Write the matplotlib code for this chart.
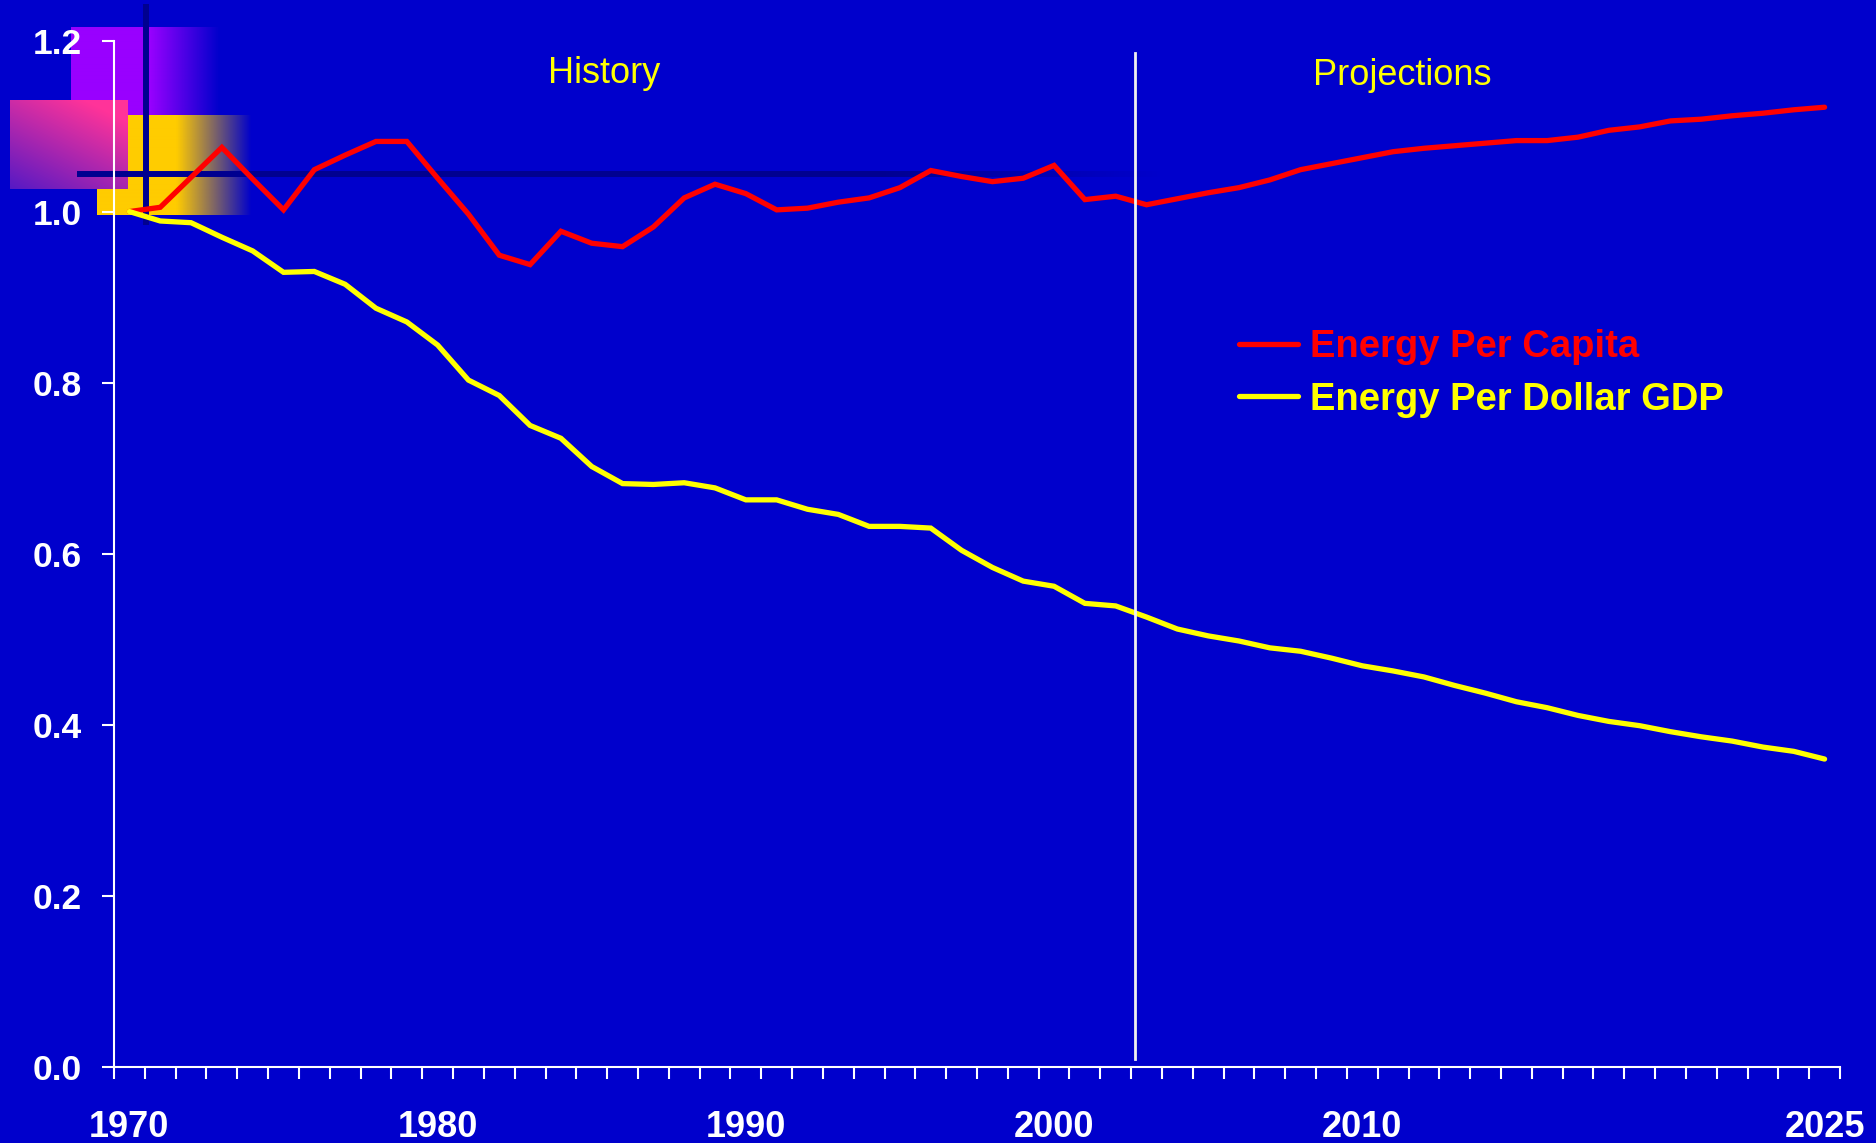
import numpy as np
import matplotlib.pyplot as plt

plt.rcParams['font.family'] = ['Liberation Sans', 'DejaVu Sans']

years = list(range(1970, 2026))
energy_per_capita = [
    1.000, 1.005, 1.040, 1.075, 1.038, 1.002, 1.049, 1.066, 1.082, 1.082,
    1.039, 0.997, 0.949, 0.938, 0.977, 0.963, 0.959, 0.982, 1.016, 1.032,
    1.021, 1.002, 1.004, 1.011, 1.016, 1.028, 1.048, 1.041, 1.035, 1.039,
    1.054, 1.014, 1.018, 1.008, 1.015, 1.022, 1.028, 1.037, 1.049, 1.056,
    1.063, 1.070, 1.074, 1.077, 1.080, 1.083, 1.083, 1.087, 1.095, 1.099,
    1.106, 1.108, 1.112, 1.115, 1.119, 1.122,
]
energy_per_dollar_gdp = [
    1.000, 0.989, 0.987, 0.970, 0.954, 0.929, 0.930, 0.915, 0.887, 0.871,
    0.844, 0.803, 0.785, 0.750, 0.735, 0.702, 0.682, 0.681, 0.683, 0.677,
    0.663, 0.663, 0.652, 0.646, 0.632, 0.632, 0.630, 0.604, 0.584, 0.568,
    0.562, 0.542, 0.539, 0.526, 0.512, 0.504, 0.498, 0.490, 0.486, 0.478,
    0.469, 0.463, 0.456, 0.446, 0.437, 0.427, 0.420, 0.411, 0.404, 0.399,
    0.392, 0.386, 0.381, 0.374, 0.369, 0.360,
]
tick_years = [1970, 1980, 1990, 2000, 2010, 2025]
y_ticks = [0.0, 0.2, 0.4, 0.6, 0.8, 1.0, 1.2]
series_labels = ['Energy Per Capita', 'Energy Per Dollar GDP']
divider_year = 2002.63

BG = '#0000CC'
NAVY = '#000090'

W, H = 1876, 1143
fig = plt.figure(figsize=(W / 100, H / 100), dpi=100, facecolor=BG)

# decoration in the top left corner, drawn in pixel units behind the chart
deco = fig.add_axes([0, 0, 1, 1], zorder=0)
deco.set_xlim(0, W)
deco.set_ylim(H, 0)
deco.axis('off')


def fade_rect(ax, x0, x1, y0, y1, rgb, solid_until):
    n = int(x1 - x0)
    xs = np.linspace(x0, x1, n)
    alpha = np.clip((x1 - xs) / (x1 - solid_until), 0, 1)
    img = np.zeros((1, n, 4))
    img[0, :, :3] = rgb
    img[0, :, 3] = alpha
    ax.imshow(img, extent=(x0, x1, y1, y0), origin='upper', aspect='auto',
              interpolation='bilinear')


fade_rect(deco, 71, 220, 27, 115, (0.6, 0.0, 1.0), 150)
fade_rect(deco, 97, 252, 115, 215, (1.0, 0.8, 0.0), 177)

# pink square with a diagonal gradient
gx, gy = np.meshgrid(np.linspace(0, 1, 118), np.linspace(0, 1, 89))
t = np.clip(0.4 * gx + 0.6 * (1 - gy) + 0.15, 0, 1)[..., None]
pink = np.array([1.0, 0.2, 0.6])
violet = np.array([0.22, 0.08, 0.8])
deco.imshow(violet + (pink - violet) * t, extent=(10, 128, 189, 100),
            origin='upper', aspect='auto', interpolation='bilinear')

deco.plot([146, 146], [4, 225], color=NAVY, lw=4.3, solid_capstyle='butt')
hx = np.linspace(77, 1160, 400)
ha = np.clip((1160 - hx) / (1160 - 880), 0, 1)
for i in range(len(hx) - 1):
    deco.plot(hx[i:i + 2], [174, 174], color=NAVY, alpha=ha[i], lw=4.3,
              solid_capstyle='butt')

# main chart
ax = fig.add_axes([114 / W, 1 - 1067 / H, (1840 - 114) / W, (1067 - 40.5) / H],
                  zorder=1)
ax.patch.set_alpha(0)

ax.plot(years, energy_per_capita, color='#FF0000', lw=3.8,
        solid_joinstyle='miter', solid_capstyle='round', label=series_labels[0])
ax.plot(years, energy_per_dollar_gdp, color='#FFFF00', lw=3.8,
        solid_joinstyle='miter', solid_capstyle='round', label=series_labels[1])

ax.axvline(divider_year, ymin=0.008, ymax=0.988, color='#F0F0F0', lw=2.0)

ax.text(1985.4, 1.162, 'History', color='#FFFF00', fontsize=26,
        ha='center', va='center')
ax.text(2011.3, 1.159, 'Projections', color='#FFFF00', fontsize=26,
        ha='center', va='center')

ax.set_xlim(years[0] - 0.5, years[-1] + 0.5)
ax.set_ylim(0, 1.2)

for side in ['top', 'right']:
    ax.spines[side].set_visible(False)
for side in ['left', 'bottom']:
    ax.spines[side].set_color('white')
    ax.spines[side].set_linewidth(1.5)

ax.set_xticks(tick_years)
ax.set_xticklabels([str(y) for y in tick_years])
ax.set_xticks(np.arange(years[0] - 0.5, years[-1] + 1.5, 1), minor=True)
ax.tick_params(axis='x', which='major', length=0, pad=31, labelsize=26,
               labelcolor='white')
ax.tick_params(axis='x', which='minor', length=8.6, width=1.5, color='white',
               direction='out')
ax.set_yticks(y_ticks)
ax.set_yticklabels(['%.1f' % v for v in y_ticks])
ax.tick_params(axis='y', length=8.6, width=1.5, color='white', pad=14.4,
               labelsize=25.5, labelcolor='white')
for lab in ax.get_xticklabels() + ax.get_yticklabels():
    lab.set_fontweight('bold')

ax.legend(loc='upper left', bbox_to_anchor=(1238.5 / W, 1 - 329 / H),
          bbox_transform=fig.transFigure, frameon=False, borderpad=0,
          borderaxespad=0, handlelength=1.57, handletextpad=0.3,
          labelspacing=0.44, labelcolor='linecolor',
          prop={'weight': 'bold', 'size': 27.5})

fig.savefig('out.png', dpi=100, facecolor=BG)
